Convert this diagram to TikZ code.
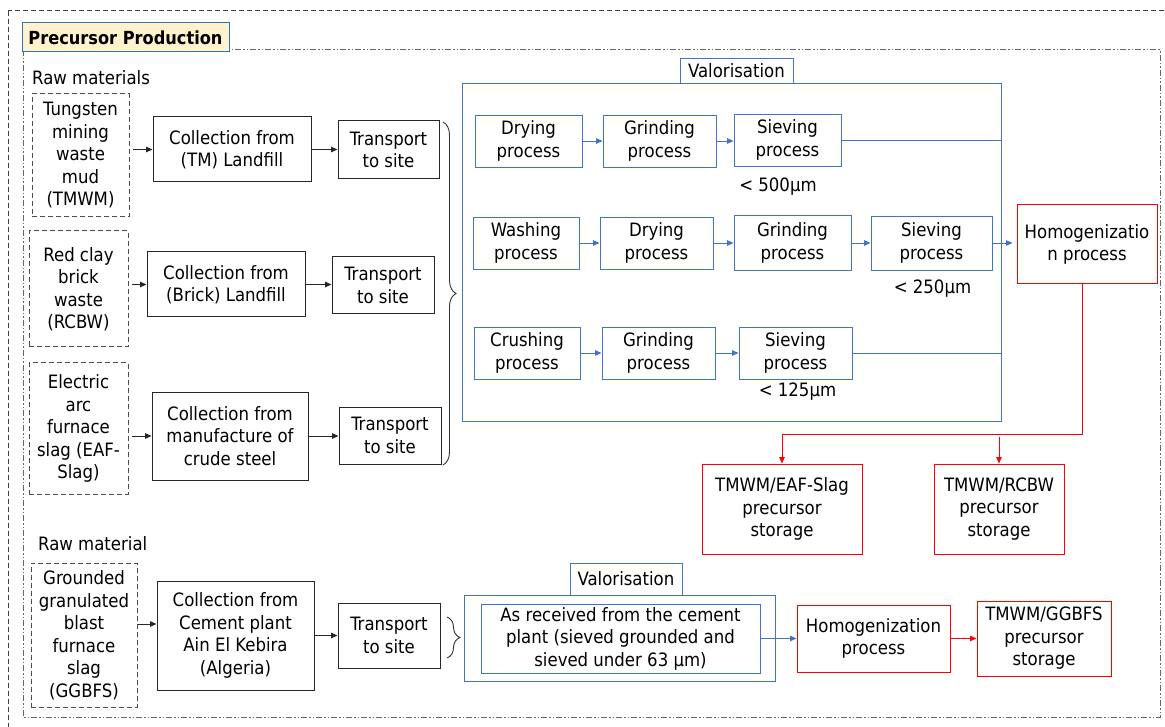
\documentclass[tikz,border=0pt]{standalone}
\usepackage{fontspec}
\setmainfont{DejaVu Sans Condensed}
\usetikzlibrary{arrows.meta,decorations.pathreplacing}
\definecolor{vblue}{HTML}{4472C4}
\definecolor{vred}{HTML}{FF0000}
\definecolor{tyel}{HTML}{FFF2CC}
\definecolor{tblue}{HTML}{2E75B6}
\tikzset{
  txt/.style={font=\fontsize{18.4}{22.5}\selectfont, align=center, inner sep=0pt},
  blk/.style={txt, draw=black!85, line width=1pt},
  rawbox/.style={txt, draw=black!70, line width=1pt, dash pattern=on 5pt off 3pt},
  pbox/.style={txt, draw=vblue, line width=0.9pt},
  rbox/.style={txt, draw=vred, line width=1pt},
  arr/.style={draw=black!85, line width=1pt, -{Triangle[length=6.5pt,width=5.5pt]}},
  barr/.style={draw=vblue, line width=0.9pt, -{Triangle[length=6.5pt,width=5.5pt]}},
  rarr/.style={draw=vred, line width=1pt, -{Triangle[length=6.5pt,width=5.5pt]}},
  bline/.style={draw=vblue, line width=0.9pt},
  brc/.style={draw=black!80, line width=0.9pt, decorate},
}
\begin{document}
\begin{tikzpicture}[x=1pt,y=-1pt]
\clip (0,0) rectangle (1165,727);
\fill[white] (0,0) rectangle (1165,727);
% frames
\draw[black!75, line width=1pt, dash pattern=on 5pt off 3pt] (8,11) rectangle (1180,745);
\draw[black!60, line width=1pt, dash pattern=on 6pt off 2pt on 1.5pt off 2pt on 1.5pt off 2pt] (23,50) rectangle (1160,717);
\node[txt, draw=tblue, fill=tyel, line width=1pt, minimum width=207pt, minimum height=29pt, font=\fontsize{18}{22}\selectfont\bfseries] (title) at (125.5,37.5) {Precursor Production};

\node[txt, anchor=west] (rawlbl) at (32,78) {Raw materials};
\node[txt, anchor=west] (rawlbl2) at (38,544) {Raw material};

% raw materials
\node[rawbox, minimum width=97pt, minimum height=123pt] (r1) at (80.5,155.5) {Tungsten\\mining\\waste\\mud\\(TMWM)};
\node[rawbox, minimum width=99pt, minimum height=116pt] (r2) at (78.5,289) {Red clay\\brick\\waste\\(RCBW)};
\node[rawbox, minimum width=99pt, minimum height=131pt] (r3) at (78.5,428.5) {Electric\\arc\\furnace\\slag (EAF-\\Slag)};
\node[rawbox, minimum width=106pt, minimum height=144pt] (r4) at (84,635) {Grounded\\granulated\\blast\\furnace\\slag\\(GGBFS)};

% collection
\node[blk, minimum width=158pt, minimum height=65pt] (c1) at (232,149.5) {Collection from\\(TM) Landfill};
\node[blk, minimum width=158pt, minimum height=65pt] (c2) at (226,284.5) {Collection from\\(Brick) Landfill};
\node[blk, minimum width=156pt, minimum height=88pt] (c3) at (230,436) {Collection from\\manufacture of\\crude steel};
\node[blk, minimum width=157pt, minimum height=109pt] (c4) at (235.5,635.5) {Collection from\\Cement plant\\Ain El Kebira\\(Algeria)};

% transport
\node[blk, minimum width=101pt, minimum height=58pt] (t1) at (388.5,150) {Transport\\to site};
\node[blk, minimum width=102pt, minimum height=57pt] (t2) at (383,285.5) {Transport\\to site};
\node[blk, minimum width=102pt, minimum height=57pt] (t3) at (390,435.5) {Transport\\to site};
\node[blk, minimum width=102pt, minimum height=65pt] (t4) at (389,635.5) {Transport\\to site};

\draw[arr, shorten <=3pt] (c1.west -| r1.east) -- (c1.west);
\draw[arr, shorten <=3pt] (c2.west -| r2.east) -- (c2.west);
\draw[arr, shorten <=3pt] (c3.west -| r3.east) -- (c3.west);
\draw[arr] (r4.east |- 0,624) -- (c4.west |- 0,624);
\draw[arr] (c1.east) -- (c1.east -| t1.west);
\draw[arr] (c2.east) -- (c2.east -| t2.west);
\draw[arr] (c3.east) -- (c3.east -| t3.west);
\draw[arr] (c4.east |- t4.west) -- (t4.west);

% braces
\draw[brc, decoration={brace, amplitude=13pt}] (443,122) -- (443,465);
\draw[brc, decoration={brace, amplitude=13pt}] (447,617) -- (447,658);

% valorisation 1
\node[pbox, minimum width=539pt, minimum height=338pt] (v1) at (731.5,252) {};
\node[pbox, fill=white, minimum width=113pt, minimum height=25pt] (v1l) at (736.5,70.5) {Valorisation};

\node[pbox, minimum width=107pt, minimum height=52pt] (d1) at (528.5,141) {Drying\\process};
\node[pbox, minimum width=113pt, minimum height=52pt] (g1) at (659.5,141) {Grinding\\process};
\node[pbox, minimum width=107pt, minimum height=52pt] (s1) at (787.5,140) {Sieving\\process};
\draw[barr] (d1.east) -- (d1.east -| g1.west);
\draw[barr] (g1.east) -- (g1.east -| s1.west);
\draw[bline] (s1.east) -- (s1.east -| v1.east);
\node[txt] (m1) at (778,187) {< 500μm};

\node[pbox, minimum width=106pt, minimum height=52pt] (w2) at (526,243) {Washing\\process};
\node[pbox, minimum width=113pt, minimum height=52pt] (d2) at (656.5,243) {Drying\\process};
\node[pbox, minimum width=117pt, minimum height=55pt] (g2) at (792.5,243) {Grinding\\process};
\node[pbox, minimum width=121pt, minimum height=54pt] (s2) at (931.5,243) {Sieving\\process};
\draw[barr] (w2.east) -- (w2.east -| d2.west);
\draw[barr] (d2.east) -- (d2.east -| g2.west);
\draw[barr] (g2.east) -- (g2.east -| s2.west);
\node[txt] (m2) at (932.5,289) {< 250μm};

\node[pbox, minimum width=106pt, minimum height=52pt] (cr3) at (527,353) {Crushing\\process};
\node[pbox, minimum width=113pt, minimum height=52pt] (g3) at (658.5,353) {Grinding\\process};
\node[pbox, minimum width=113pt, minimum height=52pt] (s3) at (795.5,353) {Sieving\\process};
\draw[barr] (cr3.east) -- (cr3.east -| g3.west);
\draw[barr] (g3.east) -- (g3.east -| s3.west);
\draw[bline] (s3.east) -- (s3.east -| v1.east);
\node[txt] (m3) at (797.5,392) {< 125μm};

% homogenization 1 and storages
\node[rbox, minimum width=140pt, minimum height=79pt] (h1) at (1087,244.5) {Homogenizatio\\n process};
\draw[barr, shorten >=4pt] (s2.east) -- (s2.east -| h1.west);

\node[rbox, minimum width=160pt, minimum height=90pt] (st1) at (782,509) {TMWM/EAF-Slag\\precursor\\storage};
\node[rbox, minimum width=130pt, minimum height=90pt] (st2) at (999,509) {TMWM/RCBW\\precursor\\storage};
\coordinate (rj) at (782,434);
\coordinate (rk) at (999,437);
\draw[rarr] ([xshift=-5pt]h1.south) |- (rj) -- (st1.north);
\draw[rarr] (rk) -- (st2.north);

% valorisation 2
\node[pbox, minimum width=311pt, minimum height=86pt] (v2) at (619.5,638) {};
\node[pbox, fill=white, minimum width=112pt, minimum height=32pt] (v2l) at (626,579) {Valorisation};
\node[pbox, minimum width=279pt, minimum height=69pt] (ar) at (620.5,638.5) {As received from the cement\\plant (sieved grounded and\\sieved under 63 μm)};
\node[rbox, minimum width=153pt, minimum height=67pt] (h2) at (873.5,638.5) {Homogenization\\process};
\node[rbox, minimum width=134pt, minimum height=75pt] (st3) at (1044,638.5) {TMWM/GGBFS\\precursor\\storage};
\draw[barr] (ar.east) -- (h2.west);
\draw[rarr] (h2.east) -- (st3.west);
\end{tikzpicture}
\end{document}
